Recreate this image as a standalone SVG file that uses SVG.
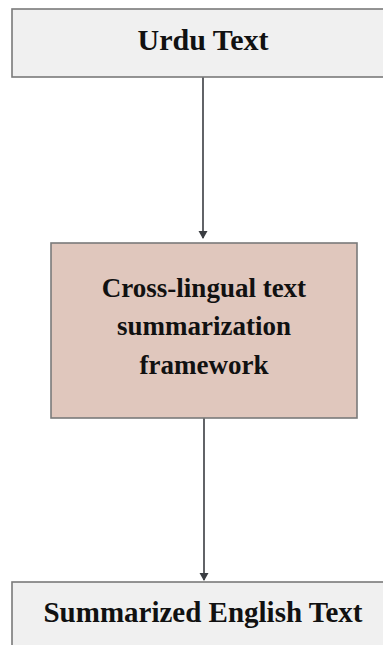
<svg xmlns="http://www.w3.org/2000/svg" width="383" height="645" viewBox="0 0 383 645">
<style>
.box{stroke:#7a7a7a;stroke-width:1.6}
.light{fill:#f0f0f0}
.rose{fill:#e0c7bd}
.lbl{font-family:"Liberation Serif","Times New Roman",serif;font-weight:bold;font-size:27px;fill:#111;text-anchor:middle}
.conn{stroke:#3a3d42;stroke-width:1.6;fill:none}
</style>
<defs>
<marker id="ah" markerWidth="10" markerHeight="10" refX="7" refY="4.5" orient="auto" markerUnits="userSpaceOnUse">
<path d="M0,0 L8,4.5 L0,9 Z" fill="#3a3d42"/>
</marker>
</defs>
<rect width="383" height="645" fill="#ffffff"/>
<g id="connectors">
<line class="conn" x1="203" y1="77" x2="203" y2="238" marker-end="url(#ah)"/>
<line class="conn" x1="204" y1="418" x2="204" y2="580" marker-end="url(#ah)"/>
</g>
<g id="urdu-text">
<rect class="box light" x="12" y="9" width="382" height="68"/>
<text class="lbl" x="203" y="50" font-size="30" style="font-size:30px">Urdu Text</text>
</g>
<g id="framework">
<rect class="box rose" x="51" y="243" width="306" height="175"/>
<text class="lbl" x="204" y="297">Cross-lingual text</text>
<text class="lbl" x="204" y="335">summarization</text>
<text class="lbl" x="204" y="374">framework</text>
</g>
<g id="summarized">
<rect class="box light" x="12" y="582" width="382" height="80"/>
<text class="lbl" x="203" y="622" style="font-size:29px">Summarized English Text</text>
</g>
</svg>
